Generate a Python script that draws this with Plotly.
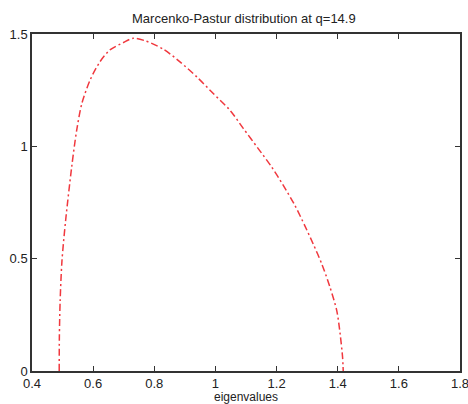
import plotly.graph_objects as go

# values
eigenvalues = [0.489, 0.4895, 0.492, 0.498, 0.510, 0.530, 0.546, 0.563, 0.590, 0.622,
               0.655, 0.699, 0.731, 0.770, 0.830, 0.884, 0.939, 0.993, 1.048, 1.091,
               1.140, 1.184, 1.222, 1.260, 1.293, 1.320, 1.348, 1.375, 1.397, 1.408,
               1.416, 1.418]
density = [0.0, 0.15, 0.31, 0.49, 0.67, 0.91, 1.07, 1.19, 1.295, 1.376,
           1.429, 1.462, 1.481, 1.470, 1.432, 1.376, 1.309, 1.235, 1.160, 1.080,
           0.990, 0.908, 0.826, 0.737, 0.645, 0.565, 0.476, 0.372, 0.268, 0.164,
           0.059, 0.0]

x_ticks = [0.4, 0.6, 0.8, 1, 1.2, 1.4, 1.6, 1.8]
x_labels = ["0.4", "0.6", "0.8", "1", "1.2", "1.4", "1.6", "1.8"]
y_ticks = [0, 0.5, 1, 1.5]
y_labels = ["0", "0.5", "1", "1.5"]

font_name = "Liberation Sans, Arial"

fig = go.Figure()
fig.add_trace(go.Scatter(x=eigenvalues, y=density, mode="lines",
                         line=dict(color="#f0383e", width=1.5, dash="7px,3px,2px,3px",
                                   shape="spline", smoothing=0.8),
                         showlegend=False))

axis_style = dict(showline=True, linecolor="#333333", linewidth=1.5, mirror="allticks",
                  ticks="inside", ticklen=5, tickcolor="#333333", showgrid=False,
                  zeroline=False, automargin=False, ticklabeloverflow="allow",
                  tickfont=dict(family=font_name, size=13, color="#222"))

fig.update_layout(
    width=468, height=404,
    margin=dict(l=32, r=8, t=34, b=33),
    paper_bgcolor="white", plot_bgcolor="white",
    title=dict(text="Marcenko-Pastur distribution at q=14.9", xref="paper", x=0.495,
               xanchor="center", yref="container", y=0.955, yanchor="middle",
               font=dict(family=font_name, size=13, color="#222")),
    xaxis=dict(range=[0.4, 1.8], tickvals=x_ticks, ticktext=x_labels,
               title=dict(text="eigenvalues", standoff=0,
                          font=dict(family=font_name, size=12, color="#222")),
               **axis_style),
    yaxis=dict(range=[0, 1.5], tickvals=y_ticks, ticktext=y_labels, **axis_style),
)

# drop the default page margin so the figure fills the window
fig.write_html("out.html", config={"displayModeBar": False},
               post_script="document.body.style.margin='0';")
